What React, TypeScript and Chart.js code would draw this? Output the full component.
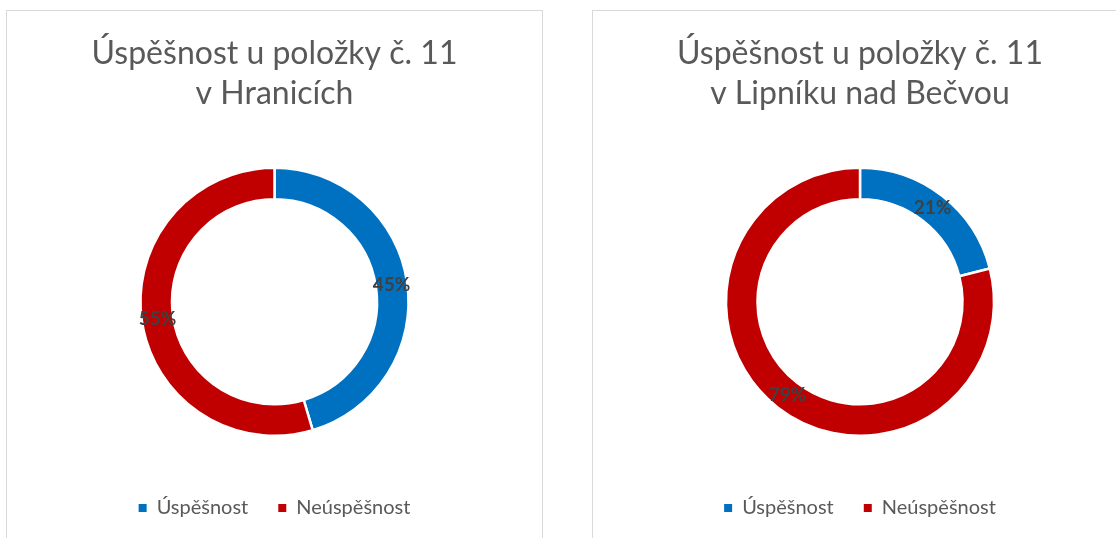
import React, { useEffect, useRef } from "react";
import { Chart, registerables } from "chart.js";

Chart.register(...registerables);

const categories = ["Úspěšnost", "Neúspěšnost"];
const hraniceValues = [45.4, 54.6];
const lipnikValues = [21, 79];
const hraniceTitle = ["Úspěšnost u položky č. 11", "v Hranicích"];
const lipnikTitle = ["Úspěšnost u položky č. 11", "v Lipníku nad Bečvou"];
const colors = ["#0070C0", "#C00000"];

const FONT = "Lato, 'Open Sans', 'Liberation Sans', sans-serif";

const labelPlugin = {
  id: "pctLabels",
  afterDatasetsDraw(chart: any) {
    const ctx = chart.ctx;
    const meta = chart.getDatasetMeta(0);
    const data = chart.data.datasets[0].data as number[];
    ctx.save();
    ctx.font = `bold 19px ${FONT}`;
    ctx.fillStyle = "#404040";
    ctx.textAlign = "center";
    ctx.textBaseline = "middle";
    meta.data.forEach((arc: any, i: number) => {
      const p = arc.getCenterPoint();
      ctx.fillText(`${Math.round(data[i])}%`, p.x, p.y);
    });
    ctx.restore();
  },
};

function Donut({ title, values, left, width }: { title: string[]; values: number[]; left: number; width: number }) {
  const ref = useRef<HTMLCanvasElement>(null);
  useEffect(() => {
    if (!ref.current) return;
    const chart = new Chart(ref.current, {
      type: "doughnut",
      data: {
        labels: categories,
        datasets: [
          {
            data: values,
            backgroundColor: colors,
            borderColor: "#FFFFFF",
            borderWidth: 2.5,
            radius: 134,
            cutout: "76.5%",
          } as any,
        ],
      },
      options: {
        animation: false,
        responsive: false,
        maintainAspectRatio: false,
        layout: { padding: { bottom: 10 } },
        plugins: {
          title: {
            display: true,
            text: title,
            color: "#595959",
            font: { family: FONT, size: 32, weight: "normal", lineHeight: "40px" } as any,
            padding: { top: 23, bottom: 21.5 },
          },
          legend: {
            display: true,
            position: "bottom",
            labels: {
              color: "#595959",
              font: { family: FONT, size: 20 },
              boxWidth: 8,
              boxHeight: 8,
              padding: 30,
              generateLabels: (c: any) =>
                (Chart as any).overrides.doughnut.plugins.legend.labels
                  .generateLabels(c)
                  .map((it: any) => ({ ...it, lineWidth: 0 })),
            },
          },
          tooltip: { enabled: false },
        },
      },
      plugins: [labelPlugin],
    });
    return () => chart.destroy();
  }, []);
  return (
    <div
      style={{
        position: "absolute",
        left,
        top: 10,
        width: width + 2,
        height: 560,
        border: "1px solid #D9D9D9",
        boxSizing: "border-box",
        background: "#FFFFFF",
      }}
    >
      <canvas ref={ref} width={width} height={527} style={{ display: "block", width, height: 527 }} />
    </div>
  );
}

export default function App() {
  return (
    <div style={{ position: "fixed", left: 0, top: 0, width: 1116, height: 538, overflow: "hidden", background: "#FFFFFF" }}>
      <Donut title={hraniceTitle} values={hraniceValues} left={6} width={535} />
      <Donut title={lipnikTitle} values={lipnikValues} left={592} width={534} />
    </div>
  );
}
